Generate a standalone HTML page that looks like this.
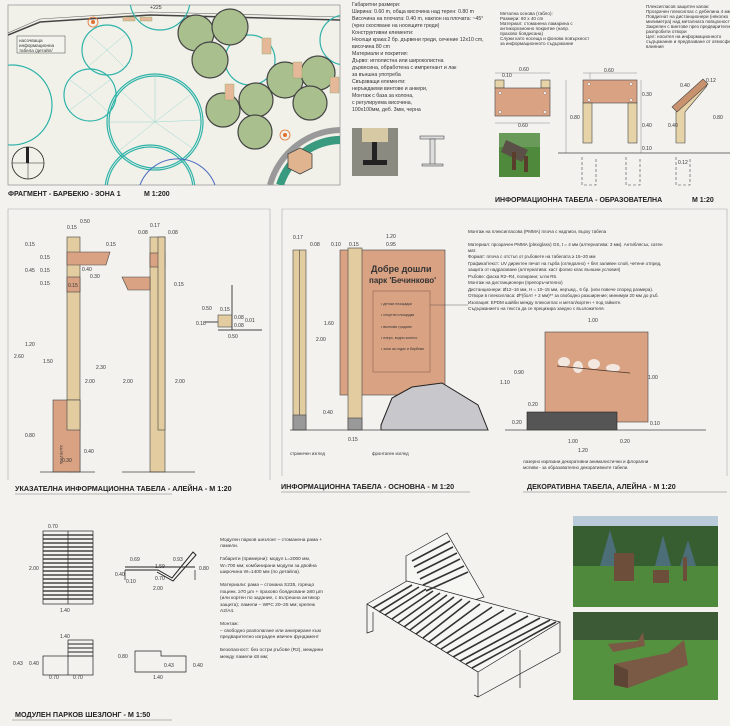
<!DOCTYPE html>
<html><head><meta charset="utf-8"><style>
html,body{margin:0;padding:0;background:#f3f2ef;}
svg{display:block}
text{font-family:"Liberation Sans",sans-serif;fill:#333}
.t{font-size:5.2px}
.s{font-size:4.6px}
.h{font-size:8.5px;font-weight:bold;fill:#222}
.d{font-size:5px}
</style></head><body>
<svg width="730" height="726" viewBox="0 0 730 726" xmlns="http://www.w3.org/2000/svg">
<rect width="730" height="726" fill="#f3f2ef"/>
<defs>
<clipPath id="pc"><rect x="8" y="5" width="332" height="180"/></clipPath>
</defs>
<!-- PLAN -->
<rect x="8" y="5" width="332" height="180" fill="#f1f1ea" stroke="#999" stroke-width="0.8"/>
<g clip-path="url(#pc)" fill="none">
<path d="M8 35 L40 22 L150 15 L340 20" stroke="#444" stroke-width="1.5"/>
<path d="M8 33 L40 19 L150 12 L340 17" stroke="#666" stroke-width="0.6"/>
<g stroke="#2fb3a8" stroke-width="1.2">
<circle cx="160" cy="0" r="30"/><circle cx="107" cy="50" r="25"/><circle cx="90" cy="95" r="26"/>
<circle cx="155" cy="122" r="48"/><circle cx="155" cy="122" r="46"/><circle cx="12" cy="105" r="40"/>
<circle cx="150" cy="190" r="45"/><circle cx="150" cy="190" r="43"/><circle cx="250" cy="60" r="25"/><circle cx="345" cy="40" r="25"/>
</g>
<g stroke="#7fd0c8" stroke-width="0.4">
<path d="M155 122 L120 90 M155 122 L190 95 M155 122 L120 150 M155 122 L195 150 M155 122 L155 75 M155 122 L110 122 M155 122 L200 120"/>
<path d="M107 50 L90 35 M107 50 L125 35 M107 50 L90 65 M107 50 L125 68"/>
<path d="M90 95 L70 80 M90 95 L110 80 M90 95 L70 110 M90 95 L108 112"/>
</g>
<g fill="#a9bf8e" stroke="#444" stroke-width="1.2">
<circle cx="196" cy="33" r="18"/><circle cx="230" cy="27" r="18"/><circle cx="210" cy="60" r="18"/>
<circle cx="285" cy="80" r="18"/><circle cx="318" cy="73" r="17"/><circle cx="256" cy="100" r="17"/>
<circle cx="310" cy="103" r="17"/><circle cx="223" cy="110" r="17"/><circle cx="255" cy="132" r="17"/>
</g>
<g fill="#e4b898" stroke="#8a6" stroke-width="0.4">
<rect x="262" y="38" width="9" height="16"/><rect x="225" y="84" width="9" height="16"/><rect x="293" y="62" width="9" height="16"/><rect x="330" y="77" width="9" height="16"/>
<rect x="123" y="17" width="12" height="4"/><rect x="140" y="17" width="12" height="4"/>
</g>
<path d="M270 185 A75 75 0 0 1 345 130" stroke="#999" stroke-width="6" fill="none"/>
<path d="M280 185 A65 65 0 0 1 345 140" stroke="#3a9a80" stroke-width="8" fill="none"/>
<polygon points="300,148 312,154 312,168 300,174 288,168 288,154" fill="#e0b48f" stroke="#444" stroke-width="0.8"/>
<circle cx="93" cy="22" r="5" stroke="#e07030" stroke-width="0.8"/><circle cx="93" cy="22" r="2" fill="#e07030"/>
<circle cx="285" cy="135" r="5" stroke="#e07030" stroke-width="0.8"/><circle cx="285" cy="135" r="2" fill="#e07030"/>
<path d="M140 185 A40 40 0 0 1 215 185" stroke="#4a6ac0" stroke-width="1"/>
</g>
<rect x="17" y="36" width="48" height="17" fill="#f4f4ee" stroke="#444" stroke-width="0.5"/>
<text class="s" x="19" y="42">насочваща</text><text class="s" x="19" y="47">информационна</text><text class="s" x="19" y="52">табела /детайл/</text>
<circle cx="28" cy="163" r="16" fill="none" stroke="#222" stroke-width="0.8"/>
<path d="M12 163 H44 M28 147 V179" stroke="#222" stroke-width="0.5"/><rect x="26" y="147" width="3" height="16" fill="#222"/>
<text class="t" x="150" y="9">+225</text>
<text class="h" x="8" y="196" style="font-size:7px">ФРАГМЕНТ - БАРБЕКЮ - ЗОНА 1</text>
<text class="h" x="144" y="196" style="font-size:7px">М 1:200</text>

<!-- TOP MIDDLE TEXT -->
<g class="t">
<text class="t" x="352" y="6">Габаритни размери:</text>
<text class="t" x="352" y="13">Ширина: 0.60 m, обща височина над терен: 0.80 m</text>
<text class="t" x="352" y="20">Височина на плочата: 0.40 m, наклон на плочата: ~45°</text>
<text class="t" x="352" y="27">(чрез скосяване на носещите греди)</text>
<text class="t" x="352" y="34">Конструктивни елементи:</text>
<text class="t" x="352" y="41">Носещи крака:2 бр. дървени греди, сечение 12x10 cm,</text>
<text class="t" x="352" y="48">височина 80 cm</text>
<text class="t" x="352" y="55">Материали и покрития:</text>
<text class="t" x="352" y="62">Дърво: иглолистна или широколистна</text>
<text class="t" x="352" y="69">дървесина, обработена с импрегнант и лак</text>
<text class="t" x="352" y="76">за външна употреба</text>
<text class="t" x="352" y="83">Свързващи елементи:</text>
<text class="t" x="352" y="90">неръждаеми винтове и анкери,</text>
<text class="t" x="352" y="97">Монтаж с база за колона,</text>
<text class="t" x="352" y="104">с регулируема височина,</text>
<text class="t" x="352" y="111">100x100мм, деб. 3мм, черна</text>
</g>
<rect x="352" y="128" width="46" height="48" fill="#8a8a80"/>
<rect x="362" y="128" width="26" height="14" fill="#d8c9a5"/>
<rect x="372" y="142" width="5" height="20" fill="#222"/><rect x="363" y="160" width="24" height="5" fill="#222"/>
<g stroke="#333" stroke-width="0.5" fill="#ddd"><rect x="420" y="136" width="24" height="3"/><rect x="430" y="139" width="5" height="26"/><rect x="422" y="164" width="21" height="2"/></g>

<g font-size="4.3px">
<text class="s" x="500" y="15">Метална основа (табло):</text>
<text class="s" x="500" y="20">Размери: 60 x 40 cm</text>
<text class="s" x="500" y="25">Материал: стоманена ламарина с</text>
<text class="s" x="500" y="30">антикорозионно покритие (напр.</text>
<text class="s" x="500" y="35">прахово боядисана)</text>
<text class="s" x="500" y="40">Служи като носеща и фонова повърхност</text>
<text class="s" x="500" y="45">за информационното съдържание</text>
<text class="s" x="646" y="8">Плексигласов защитен капак:</text>
<text class="s" x="646" y="13">Прозрачен плексиглас с дебелина 4 мм</text>
<text class="s" x="646" y="18">Повдигнат на дистанционери (няколко</text>
<text class="s" x="646" y="23">милиметра) над металната повърхност</text>
<text class="s" x="646" y="28">Закрепен с винтове през предварително</text>
<text class="s" x="646" y="33">разпробити отвори</text>
<text class="s" x="646" y="38">Цел: носител на информационното</text>
<text class="s" x="646" y="43">съдържание и предпазване от атмосферни</text>
<text class="s" x="646" y="48">влияния</text>
</g>
<!-- info table drawings -->
<g stroke="#444" stroke-width="0.6">
<rect x="495" y="80" width="9" height="8" fill="#e7d3a8"/><rect x="541" y="80" width="9" height="8" fill="#e7d3a8"/>
<rect x="495" y="88" width="55" height="28" fill="#d9a283"/>
<rect x="583" y="80" width="54" height="23" fill="#d9a283"/>
<rect x="583" y="103" width="9" height="40" fill="#e7d3a8"/><rect x="628" y="103" width="9" height="40" fill="#e7d3a8"/>
<polygon points="676,143 676,112 703,81 707,86 685,112 685,143" fill="#e7d3a8"/>
<polygon points="672,107 703,79 708,84 677,112" fill="#c9926f"/>
<path d="M558 153 H730" stroke-width="0.8"/>
<path d="M582 157 V185 H596 V157 M626 157 V185 H640 V157 M676 157 V185 H690 V157" fill="none" stroke-dasharray="3,2"/>
<path d="M495 73 H550 M495 123 H550 M583 73 H637 M590 79 V73 M641 80 V153 M566 80 V153" fill="none" stroke-width="0.3"/>
</g>
<g fill="#fff" stroke="#555" stroke-width="0.3"><circle cx="500" cy="93" r="1.3"/><circle cx="545" cy="93" r="1.3"/><circle cx="500" cy="112" r="1.3"/><circle cx="545" cy="112" r="1.3"/><circle cx="589" cy="84" r="1.3"/><circle cx="631" cy="84" r="1.3"/><circle cx="589" cy="100" r="1.3"/><circle cx="631" cy="100" r="1.3"/></g>
<g class="d"><text x="519" y="71">0.60</text><text x="502" y="77">0.10</text><text x="518" y="127">0.60</text><text x="604" y="72">0.60</text><text x="642" y="96">0.30</text><text x="570" y="119">0.80</text><text x="642" y="127">0.40</text><text x="642" y="150">0.10</text><text x="680" y="87">0.40</text><text x="706" y="82">0.12</text><text x="668" y="127">0.40</text><text x="713" y="119">0.80</text><text x="678" y="164">0.12</text></g>
<rect x="499" y="133" width="41" height="44" fill="#4f8a3c"/><rect x="499" y="133" width="41" height="14" fill="#6a9a5a"/>
<polygon points="506,140 528,150 522,162 501,152" fill="#5a5048"/><rect x="512" y="152" width="4" height="18" fill="#5a3e2c"/><rect x="524" y="156" width="4" height="16" fill="#5a3e2c"/>
<text class="h" x="495" y="202" style="font-size:7px">ИНФОРМАЦИОННА ТАБЕЛА - ОБРАЗОВАТЕЛНА</text>
<text class="h" x="692" y="202" style="font-size:7px">М 1:20</text>

<!-- MIDDLE FRAMES -->
<path d="M8 480 V209 H270 V480" fill="none" stroke="#aaa" stroke-width="0.6"/>
<path d="M282 476 V209 H727 V476" fill="none" stroke="#aaa" stroke-width="0.6"/>
<!-- left sign -->
<g stroke="#444" stroke-width="0.6">
<rect x="67" y="237" width="13" height="235" fill="#e2cca0"/>
<polygon points="67,252 110,252 106,265 67,265" fill="#d9a283"/>
<rect x="67" y="277" width="13" height="15" fill="#d9a283"/>
<rect x="53" y="400" width="27" height="72" fill="#d9a283"/>
<rect x="67" y="400" width="13" height="30" fill="#e2cca0"/>
<path d="M40 472 H95" stroke-width="0.8"/>
<rect x="150" y="237" width="15" height="235" fill="#e2cca0"/>
<rect x="150" y="253" width="15" height="14" fill="#d9a283"/>
<polygon points="122,277 150,277 150,290 128,290" fill="#d9a283"/>
<rect x="158" y="237" width="7" height="193" fill="#e2cca0"/>
<path d="M122 472 H195" stroke-width="0.8"/>
<rect x="218" y="315" width="14" height="12" fill="#e2cca0"/>
<path d="M232 285 V330 M218 330 H262 M205 322 H218" stroke-width="1"/>
</g>
<text font-size="4px" transform="translate(60,445) rotate(90)" fill="#222">ХАЛЕЙНА</text>
<g class="d"><text x="80" y="223">0.50</text><text x="67" y="229">0.15</text><text x="25" y="246">0.15</text><text x="106" y="246">0.15</text><text x="40" y="259">0.15</text><text x="25" y="272">0.45</text><text x="40" y="272">0.15</text><text x="82" y="271">0.40</text><text x="90" y="278">0.30</text><text x="40" y="285">0.15</text><text x="68" y="287">0.15</text><text x="25" y="346">1.20</text><text x="43" y="363">1.50</text><text x="14" y="358">2.60</text><text x="96" y="369">2.30</text><text x="85" y="383">2.00</text><text x="25" y="437">0.80</text><text x="84" y="453">0.40</text><text x="62" y="462">0.30</text>
<text x="150" y="227">0.17</text><text x="138" y="234">0.08</text><text x="168" y="234">0.08</text><text x="174" y="286">0.15</text><text x="123" y="383">2.00</text><text x="175" y="383">2.00</text>
<text x="202" y="310">0.50</text><text x="220" y="311">0.15</text><text x="196" y="325">0.18</text><text x="234" y="319">0.08</text><text x="234" y="327">0.08</text><text x="245" y="322">0.01</text><text x="228" y="338">0.50</text></g>
<text class="h" x="15" y="491" style="font-size:7.2px">УКАЗАТЕЛНА ИНФОРМАЦИОННА ТАБЕЛА - АЛЕЙНА - М 1:20</text>
<path d="M15 494 H172" stroke="#777" stroke-width="0.6"/>

<!-- main sign -->
<g stroke="#444" stroke-width="0.6">
<rect x="293" y="250" width="13" height="180" fill="#e2cca0"/><path d="M299.5 250 V415"/>
<rect x="293" y="415" width="13" height="15" fill="#999"/>
<rect x="340" y="250" width="105" height="145" fill="#d9a283"/>
<rect x="348" y="248" width="14" height="182" fill="#e2cca0"/>
<rect x="348" y="418" width="14" height="12" fill="#999"/>
<rect x="373" y="291" width="57" height="81" fill="none" stroke="#8a6050"/>
<polygon points="381,425 392,398 412,387 442,383 478,405 488,430 381,430" fill="#c7c7cc" stroke="#222" stroke-width="1"/>
<path d="M290 430 H488" stroke-width="0.8"/>
<rect x="545" y="332" width="103" height="90" fill="#d9a283"/>
<rect x="527" y="412" width="90" height="18" fill="#555" stroke="#222"/>
<path d="M505 430 H706" stroke-width="0.8"/>
<path d="M430 305 H468" stroke-width="0.4"/>
</g>
<text x="371" y="272" font-size="9px" font-weight="bold" fill="#4a3428" font-family="Liberation Serif,serif">Добре дошли</text>
<text x="369" y="283" font-size="8px" font-weight="bold" fill="#4a3428" font-family="Liberation Serif,serif">парк 'Бечинково'</text>
<g font-size="3.6px"><text x="381" y="305">• детски площадки</text><text x="381" y="316">• спортни площадки</text><text x="381" y="328">• вълнови градини</text><text x="381" y="339">• езеро, водно колело</text><text x="381" y="350">• зони за отдих и барбекю</text></g>
<g fill="#f2e8e0"><ellipse cx="564" cy="362" rx="6" ry="5"/><ellipse cx="578" cy="367" rx="5" ry="6"/><ellipse cx="594" cy="364" rx="6" ry="5"/><ellipse cx="613" cy="368" rx="7" ry="4"/></g>
<path d="M557 366 L630 373" stroke="#4a3428" stroke-width="0.8"/>
<g class="d"><text x="293" y="239">0.17</text><text x="310" y="246">0.08</text><text x="331" y="246">0.10</text><text x="349" y="246">0.15</text><text x="386" y="238">1.20</text><text x="386" y="246">0.95</text><text x="324" y="325">1.60</text><text x="316" y="341">2.00</text><text x="323" y="414">0.40</text><text x="348" y="441">0.15</text><text x="290" y="455" font-size="4.3px">страничен изглед</text><text x="372" y="455" font-size="4.3px">фронтален изглед</text>
<text x="588" y="322">1.00</text><text x="514" y="374">0.90</text><text x="500" y="384">1.10</text><text x="648" y="379">1.00</text><text x="528" y="406">0.20</text><text x="512" y="424">0.20</text><text x="650" y="425">0.10</text><text x="568" y="443">1.00</text><text x="620" y="443">0.20</text><text x="578" y="452">1.20</text></g>
<g font-size="4.5px"><text x="468" y="233">Монтаж на плексигласова (PMMA) плоча с надписи, върху табела</text>
<text x="468" y="246">Материал: прозрачен PMMA (plexiglass) GS, t = 4 мм (алтернатива: 3 мм). Антиблясък, сатен</text>
<text x="468" y="252">мат.</text>
<text x="468" y="258">Формат: плоча с отстъп от ръбовете на табелата ≥ 15–20 мм</text>
<text x="468" y="265">Графика/текст: UV директен печат на гърба (огледално) + бял заливен слой, четене отпред,</text>
<text x="468" y="271">защита от надраскване (алтернатива: каст фолио клас външни условия)</text>
<text x="468" y="278">Ръбове: фаска R2–R4, полирани; ъгли R5.</text>
<text x="468" y="284">Монтаж на дистанционери (препоръчително)</text>
<text x="468" y="291">Дистанционери: Ø12–16 мм, H = 10–15 мм, неръжд., 6 бр. (или повече според размера).</text>
<text x="468" y="297">Отвори в плексигласа: Ø*(болт + 2 мм)** за свободно разширение; минимум 20 мм до ръб.</text>
<text x="468" y="304">Изолация: EPDM шайби между плексиглас и метал/кортен + под гайките.</text>
<text x="468" y="310">Съдържанието на текста да се прецизира заедно с възложителя.</text>
<text x="523" y="463">лазерно изрязани декоративни анималистични и флорални</text>
<text x="523" y="469">мотиви - за образователно декоративните табели.</text></g>
<text class="h" x="281" y="489" style="font-size:7.2px">ИНФОРМАЦИОННА ТАБЕЛА - ОСНОВНА - М 1:20</text>
<path d="M281 492 H470" stroke="#777" stroke-width="0.6"/>
<text class="h" x="527" y="489" style="font-size:7.2px">ДЕКОРАТИВНА ТАБЕЛА, АЛЕЙНА - М 1:20</text>
<path d="M523 492 H727" stroke="#777" stroke-width="0.6"/>

<!-- BOTTOM chaise -->
<g stroke="#222" stroke-width="0.7" fill="none">
<rect x="43" y="531" width="50" height="73"/>
<path d="M43 535H93M43 539H93M43 543H93M43 547H93M43 551H93M43 555H93M43 559H93M43 563H93M43 567H93M43 571H93M43 575H93M43 579H93M43 583H93M43 587H93M43 591H93M43 595H93M43 599H93" stroke-width="1.2"/>
<path d="M68 531 V604"/>
<rect x="43" y="656" width="50" height="19"/><rect x="68" y="640" width="25" height="16"/>
<path d="M68 644H93M68 648H93M68 652H93" stroke-width="1"/><path d="M68 656 V675"/>
<path d="M125 567 H195 M125 570 H158 L172 578 L193 552 L196 555 L173 581 L157 572" stroke-width="1"/>
<path d="M195 570 V580 M125 570 V580"/>
<path d="M135 651 V672 H186 V656 H161 V651 Z"/>
</g>
<g class="d"><text x="48" y="528">0.70</text><text x="29" y="570">2.00</text><text x="60" y="612">1.40</text><text x="60" y="638">1.40</text><text x="13" y="665">0.43</text><text x="29" y="665">0.40</text><text x="49" y="679">0.70</text><text x="73" y="679">0.70</text>
<text x="130" y="561">0.69</text><text x="155" y="568">1.59</text><text x="173" y="561">0.93</text><text x="155" y="580">0.70</text><text x="199" y="570">0.80</text><text x="115" y="576">0.40</text><text x="126" y="583">0.10</text><text x="153" y="590">2.00</text><text x="118" y="658">0.80</text><text x="164" y="667">0.43</text><text x="193" y="667">0.40</text><text x="153" y="679">1.40</text></g>
<g font-size="4.8px"><text x="220" y="541">Модулен парков шезлонг – стоманена рама +</text><text x="220" y="547">ламели.</text>
<text x="220" y="560">Габарити (примерни): модул L=2000 мм,</text><text x="220" y="567">W=700 мм; комбинирани модули за двойна</text><text x="220" y="573">широчина W=1400 мм (по детайла).</text>
<text x="220" y="586">Материали: рама – стомана S235, горещо</text><text x="220" y="593">поцинк. ≥70 µm + прахово боядисване ≥80 µm</text><text x="220" y="599">(или кортен по задание, с вътрешна антикор</text><text x="220" y="606">защита); ламели – WPC 20–25 мм; крепеж</text><text x="220" y="612">A2/A4.</text>
<text x="220" y="625">Монтаж:</text><text x="220" y="632">– свободно разполагане или анкериране към</text><text x="220" y="638">предварително изграден ивичен фундамент</text>
<text x="220" y="651">Безопасност: без остри ръбове (R2), междини</text><text x="220" y="658">между ламели ≤8 мм;</text></g>
<text class="h" x="15" y="717" style="font-size:7.2px">МОДУЛЕН ПАРКОВ ШЕЗЛОНГ - М 1:50</text>
<path d="M12 720 H172" stroke="#777" stroke-width="0.6"/>
<!-- iso -->
<g stroke="#222" stroke-width="0.7" fill="#f6f6f3">
<polygon points="406,556 447,533 484,597 443,610 406,581"/>
<polygon points="367,604 407,581 560,622 478,672"/>
<path d="M367 604 V633 L373 631 V612 M478 672 V697 L474 695 M478 697 L560 652 V622 M520 650 V688 M367 604 L478 672" fill="none"/>
</g>
<g stroke="#333" stroke-width="1.6">
<path d="M412 561 L450 541 M414 567 L453 547 M417 573 L457 553 M420 579 L460 559 M423 585 L464 566 M426 591 L468 572"/>
<path d="M373 608 L412 585 M379 612 L419 587 M385 615 L426 589 M392 619 L433 591 M398 623 L440 593 M404 627 L447 595 M410 630 L454 597 M416 634 L462 599 M423 638 L470 601 M429 642 L480 604 M435 646 L492 607 M441 649 L504 610 M447 653 L516 613 M453 657 L528 616 M460 661 L540 618 M466 664 L550 620 M472 668 L556 622"/>
</g>
<!-- photos -->
<rect x="573" y="516" width="145" height="91" fill="#4f8a3c"/>
<rect x="573" y="516" width="145" height="20" fill="#b9cbd8"/>
<rect x="573" y="526" width="145" height="40" fill="#365e30"/>
<path d="M600 566 L610 530 L620 566Z M655 566 L663 535 L671 566Z M680 566 L688 540 L696 566Z" fill="#4b6e78"/>
<rect x="614" y="553" width="20" height="28" fill="#6d4e3a"/><rect x="653" y="570" width="16" height="13" fill="#6d4e3a"/><rect x="683" y="557" width="4" height="24" fill="#6d4e3a"/>
<rect x="573" y="612" width="145" height="88" fill="#55923f"/>
<rect x="573" y="612" width="145" height="28" fill="#3c5a35"/>
<polygon points="614,664 668,653 684,640 688,665 628,688 614,685" fill="#7a5a45"/>
<polygon points="614,664 628,670 628,688 614,685" fill="#5e4434"/>
<polygon points="608,644 638,641 643,632 645,646 613,652" fill="#7a5a45"/>
</svg>
</body></html>
